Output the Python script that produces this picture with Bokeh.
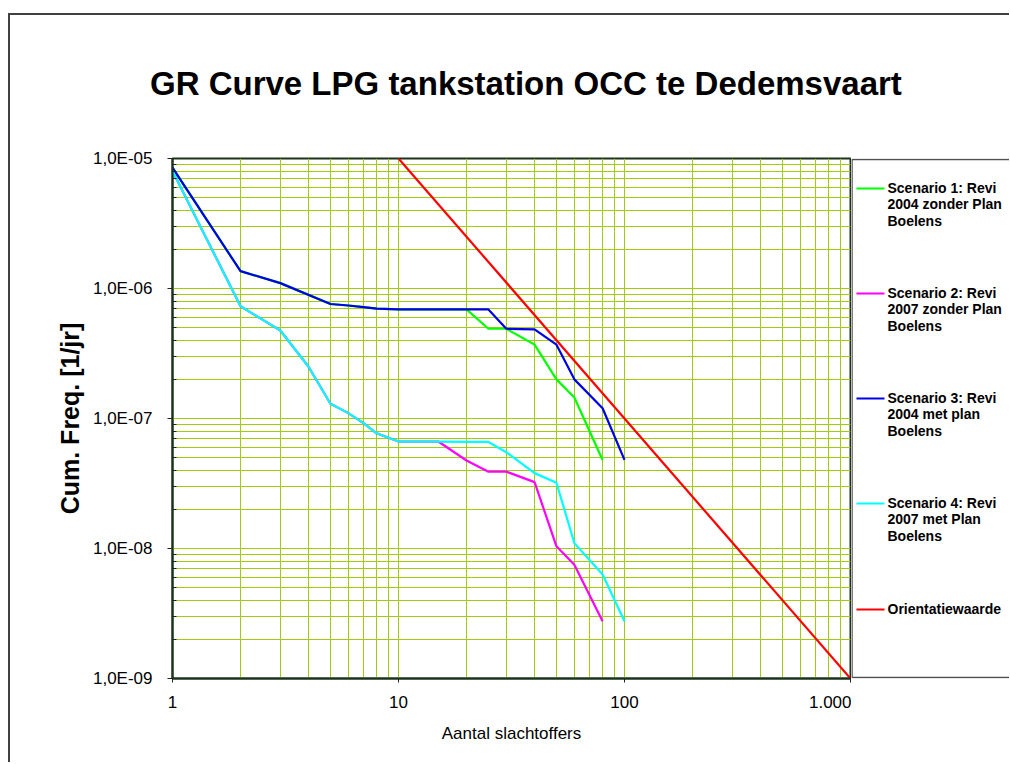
from bokeh.plotting import figure
from bokeh.models import Range1d, FixedTicker, CustomJSTickFormatter, Row, Column, Div
from bokeh.core.properties import value
from bokeh.embed import file_html
from bokeh.resources import INLINE

# ---------------- data ----------------
title_text = "GR Curve LPG tankstation OCC te Dedemsvaart"
x_label = "Aantal slachtoffers"
y_label = "Cum. Freq. [1/jr]"

s1_n = [1, 2, 3, 5, 6, 7, 8, 10, 20, 25, 30, 40, 50, 60, 80]
s1_f = [8.5e-6, 1.36e-6, 1.1e-6, 7.6e-7, 7.4e-7, 7.2e-7, 7.0e-7, 6.9e-7, 6.9e-7,
        4.9e-7, 4.9e-7, 3.7e-7, 2.0e-7, 1.45e-7, 4.8e-8]

s2_n = [1, 2, 3, 4, 5, 6, 7, 8, 10, 15, 20, 25, 30, 40, 50, 60, 80]
s2_f = [8.0e-6, 7.3e-7, 4.75e-7, 2.5e-7, 1.3e-7, 1.1e-7, 9.2e-8, 7.7e-8, 6.65e-8,
        6.65e-8, 4.75e-8, 3.9e-8, 3.9e-8, 3.24e-8, 1.04e-8, 7.5e-9, 2.76e-9]

s3_n = [1, 2, 3, 5, 6, 7, 8, 10, 20, 25, 30, 40, 50, 60, 80, 100]
s3_f = [8.5e-6, 1.36e-6, 1.1e-6, 7.6e-7, 7.4e-7, 7.2e-7, 7.0e-7, 6.9e-7, 6.9e-7,
        6.9e-7, 4.9e-7, 4.85e-7, 3.7e-7, 2.0e-7, 1.2e-7, 4.8e-8]

s4_n = [1, 2, 3, 4, 5, 6, 7, 8, 10, 15, 20, 25, 30, 40, 50, 60, 80, 100]
s4_f = [8.0e-6, 7.3e-7, 4.75e-7, 2.5e-7, 1.3e-7, 1.1e-7, 9.2e-8, 7.7e-8, 6.65e-8,
        6.65e-8, 6.6e-8, 6.6e-8, 5.5e-8, 3.8e-8, 3.2e-8, 1.1e-8, 6.3e-9, 2.76e-9]

ow_n = [10, 1000]
ow_f = [1e-5, 1e-9]

series_labels = [
    "Scenario 1: Revi\n2004 zonder Plan\nBoelens",
    "Scenario 2: Revi\n2007 zonder Plan\nBoelens",
    "Scenario 3: Revi\n2004 met plan\nBoelens",
    "Scenario 4: Revi\n2007 met Plan\nBoelens",
    "Orientatiewaarde",
]
series_colors = ["#00FF00", "#FF00FF", "#0000E6", "#00FFFF", "#FF0000"]

x_major = [1, 10, 100, 1000]
y_major = [1e-9, 1e-8, 1e-7, 1e-6, 1e-5]

# ---------------- styling ----------------
FONT = "Liberation Sans"
GRID = "#A0CC10"
FRAME = "#1A331A"

x_minor = [m * d for d in x_major[:-1] for m in range(2, 10)]
y_minor = [m * d for d in y_major[:-1] for m in range(2, 10)]

# page layout: column origin at page (10,15); title block 100px tall;
# plot frame occupies page x 172..850, y 158..678
TITLE_H = 100
TOP, BOT = 43, 84
H = TOP + 520 + BOT

title_div = Div(
    text=('<div style="padding-top:49px;padding-left:140px;white-space:nowrap;'
          'font-family:\'Liberation Sans\',Arial,sans-serif;font-weight:bold;'
          'font-size:33px;line-height:40px;color:black;">' + title_text + '</div>'),
    width=999, height=TITLE_H, margin=0)

p = figure(width=841, height=H, x_axis_type="log", y_axis_type="log",
           x_range=Range1d(1, 1000), y_range=Range1d(1e-9, 1e-5),
           output_backend="svg", toolbar_location=None,
           min_border_left=162, min_border_right=1, min_border_top=TOP,
           min_border_bottom=BOT)
p.background_fill_color = "white"
p.border_fill_color = "white"
p.outline_line_color = FRAME
p.outline_line_width = 2

xt = FixedTicker(ticks=x_major, minor_ticks=x_minor)
yt = FixedTicker(ticks=y_major, minor_ticks=y_minor)
p.xaxis.ticker = xt
p.yaxis.ticker = yt
p.xgrid.ticker = xt
p.ygrid.ticker = yt
for g in (p.xgrid, p.ygrid):
    g.grid_line_color = GRID
    g.grid_line_width = 1
    g.minor_grid_line_color = GRID
    g.minor_grid_line_width = 1

p.xaxis.formatter = CustomJSTickFormatter(
    code="return Math.round(tick).toString().replace(/\\B(?=(\\d{3})+(?!\\d))/g, '.');")
p.yaxis.formatter = CustomJSTickFormatter(
    code="const e = Math.round(Math.log10(tick)); const s = e < 0 ? '-' : '+'; "
         "return '1,0E' + s + String(Math.abs(e)).padStart(2, '0');")

for ax in (p.xaxis, p.yaxis):
    ax.axis_line_color = FRAME
    ax.axis_line_width = 2
    ax.major_tick_line_color = "#222222"
    ax.minor_tick_line_color = "#222222"
    ax.major_label_text_font = FONT
    ax.major_label_text_font_size = "17px"
    ax.major_label_text_color = "black"
    ax.axis_label_text_font = FONT
    ax.axis_label_text_color = "black"

p.xaxis.major_tick_out = 4
p.xaxis.major_tick_in = 0
p.xaxis.minor_tick_out = 0
p.xaxis.minor_tick_in = 0
p.xaxis.major_label_standoff = 13
p.xaxis.axis_label = x_label
p.xaxis.axis_label_text_font_size = "17px"
p.xaxis.axis_label_text_font_style = "normal"
p.xaxis.axis_label_standoff = 13

p.yaxis.major_tick_out = 5
p.yaxis.major_tick_in = 0
p.yaxis.minor_tick_out = 0
p.yaxis.minor_tick_in = 4
p.yaxis.major_label_standoff = 15
p.yaxis.axis_label = y_label
p.yaxis.axis_label_text_font_size = "25px"
p.yaxis.axis_label_text_font_style = "bold"
p.yaxis.axis_label_standoff = 6

all_n = [s1_n, s2_n, s3_n, s4_n, ow_n]
all_f = [s1_f, s2_f, s3_f, s4_f, ow_f]
for n, f, c in zip(all_n, all_f, series_colors):
    p.line(n, f, line_color=c, line_width=2.2)

# ---------------- legend panel (frame aligned with main frame) ----------------
LW = 158
X0 = 851  # page x of legend panel left edge
p2 = figure(width=LW, height=H, x_range=Range1d(X0, X0 + LW),
            y_range=Range1d(678, 158),
            output_backend="svg", toolbar_location=None,
            x_axis_location=None, y_axis_location=None,
            min_border_left=0, min_border_right=0, min_border_top=TOP,
            min_border_bottom=BOT)
p2.grid.visible = False
p2.outline_line_color = None
p2.background_fill_color = "white"
p2.border_fill_color = "white"

p2.line([X0 + LW + 20, X0 + 0.5, X0 + 0.5, X0 + LW + 20], [677, 677, 159, 159],
        line_color="#505050", line_width=1.5)

item_y = [188, 293, 398, 503, 609]
for yy, c in zip(item_y, series_colors):
    p2.line([856, 884], [yy, yy], line_color=c, line_width=2.2)
p2.text(x=[887] * len(series_labels), y=[yy - 9 for yy in item_y],
        text=series_labels, text_font=value(FONT), text_font_size="14px",
        text_font_style="bold", text_baseline="top", text_align="left",
        text_color="black", text_line_height=1.05)

layout = Column(children=[title_div, Row(children=[p, p2], spacing=0)], spacing=0,
                styles={"position": "relative", "left": "8px", "top": "13px",
                        "border-left": "2px solid #404040",
                        "border-top": "2px solid #404040"})

open("out.html", "w").write(file_html(layout, INLINE))
